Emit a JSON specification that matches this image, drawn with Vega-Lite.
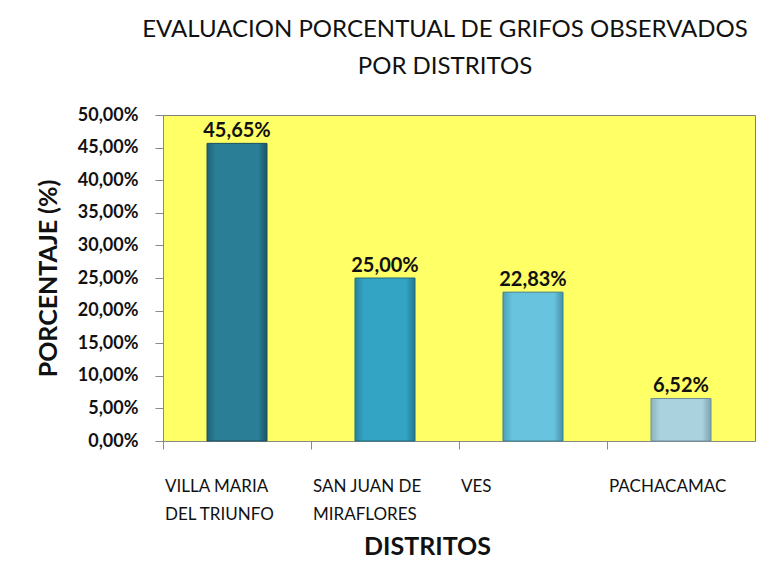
{
  "$schema": "https://vega.github.io/schema/vega-lite/v6.json",
  "width": 592,
  "height": 326,
  "autosize": "none",
  "padding": {"left": 163, "top": 115, "right": 3, "bottom": 121},
  "background": "white",
  "title": {
    "text": ["EVALUACION PORCENTUAL DE GRIFOS OBSERVADOS", "POR DISTRITOS"],
    "font": "Lato",
    "fontSize": 24,
    "fontWeight": "normal",
    "color": "#111111",
    "lineHeight": 37,
    "anchor": "middle",
    "dx": -14,
    "offset": 27
  },
  "data": {
    "values": [
      {"distrito": "VILLA MARIA DEL TRIUNFO", "pct": 0.4565},
      {"distrito": "SAN JUAN DE MIRAFLORES", "pct": 0.25},
      {"distrito": "VES", "pct": 0.2283},
      {"distrito": "PACHACAMAC", "pct": 0.0652}
    ]
  },
  "encoding": {
    "x": {
      "field": "distrito",
      "type": "nominal",
      "sort": null,
      "scale": {"paddingInner": 0, "paddingOuter": 0},
      "axis": {
        "title": "DISTRITOS",
        "titleFont": "Lato",
        "titleFontSize": 25,
        "titleFontWeight": "bold",
        "titleColor": "#111111",
        "titleX": 264,
        "titleY": 93,
        "bandPosition": 0,
        "labelAngle": 0,
        "labelAlign": "left",
        "labelBaseline": "middle",
        "labelOffset": -72,
        "labelPadding": 37,
        "labelFont": "Lato",
        "labelFontSize": 17,
        "labelColor": "#111111",
        "labelLineHeight": 28,
        "labelExpr": "datum.value == 'VILLA MARIA DEL TRIUNFO' ? ['VILLA MARIA', 'DEL TRIUNFO'] : datum.value == 'SAN JUAN DE MIRAFLORES' ? ['SAN JUAN DE', 'MIRAFLORES'] : datum.value",
        "tickColor": "#888888",
        "tickSize": 8,
        "domainColor": "#888888"
      }
    },
    "y": {
      "field": "pct",
      "type": "quantitative",
      "scale": {"domain": [0, 0.5], "nice": false},
      "axis": {
        "title": "PORCENTAJE (%)",
        "titleFont": "Lato",
        "titleFontSize": 25,
        "titleFontWeight": "bold",
        "titleColor": "#111111",
        "titlePadding": 16,
        "values": [0, 0.05, 0.1, 0.15, 0.2, 0.25, 0.3, 0.35, 0.4, 0.45, 0.5],
        "format": ".2%",
        "labelFont": "Lato",
        "labelFontSize": 18,
        "labelFontWeight": "bold",
        "labelColor": "#111111",
        "labelPadding": 17,
        "tickColor": "#888888",
        "tickSize": 8,
        "grid": false,
        "domainColor": "#888888"
      }
    }
  },
  "layer": [
    {
      "transform": [{"filter": "datum.distrito == 'VILLA MARIA DEL TRIUNFO'"}],
      "mark": {"type": "bar", "width": 60, "stroke": "#1d4f5e", "strokeWidth": 1,
        "color": {"gradient": "linear", "x1": 0, "x2": 1, "y1": 0, "y2": 0,
          "stops": [{"offset": 0, "color": "#1f6275"}, {"offset": 0.15, "color": "#2a7f96"}, {"offset": 0.85, "color": "#2a7f96"}, {"offset": 1, "color": "#1b5566"}]}}
    },
    {
      "transform": [{"filter": "datum.distrito == 'SAN JUAN DE MIRAFLORES'"}],
      "mark": {"type": "bar", "width": 60, "stroke": "#1f6a80", "strokeWidth": 1,
        "color": {"gradient": "linear", "x1": 0, "x2": 1, "y1": 0, "y2": 0,
          "stops": [{"offset": 0, "color": "#2785a0"}, {"offset": 0.15, "color": "#33a4c4"}, {"offset": 0.85, "color": "#33a4c4"}, {"offset": 1, "color": "#237890"}]}}
    },
    {
      "transform": [{"filter": "datum.distrito == 'VES'"}],
      "mark": {"type": "bar", "width": 60, "stroke": "#3b7f93", "strokeWidth": 1,
        "color": {"gradient": "linear", "x1": 0, "x2": 1, "y1": 0, "y2": 0,
          "stops": [{"offset": 0, "color": "#4d9fb8"}, {"offset": 0.15, "color": "#68c3de"}, {"offset": 0.85, "color": "#68c3de"}, {"offset": 1, "color": "#4590a6"}]}}
    },
    {
      "transform": [{"filter": "datum.distrito == 'PACHACAMAC'"}],
      "mark": {"type": "bar", "width": 60, "stroke": "#6d8f9a", "strokeWidth": 1,
        "color": {"gradient": "linear", "x1": 0, "x2": 1, "y1": 0, "y2": 0,
          "stops": [{"offset": 0, "color": "#8cb3c0"}, {"offset": 0.15, "color": "#a9d1de"}, {"offset": 0.85, "color": "#a9d1de"}, {"offset": 1, "color": "#7fa3af"}]}}
    },
    {
      "mark": {"type": "text", "baseline": "bottom", "dy": -2, "font": "Lato", "fontSize": 20, "fontWeight": "bold", "color": "#111111"},
      "encoding": {
        "text": {"field": "pct", "type": "quantitative", "format": ".2%"}
      }
    }
  ],
  "config": {
    "locale": {
      "number": {"decimal": ",", "thousands": ".", "grouping": [3], "currency": ["", " €"]}
    },
    "view": {"fill": "#ffff66", "stroke": "#808080", "strokeWidth": 1}
  }
}
